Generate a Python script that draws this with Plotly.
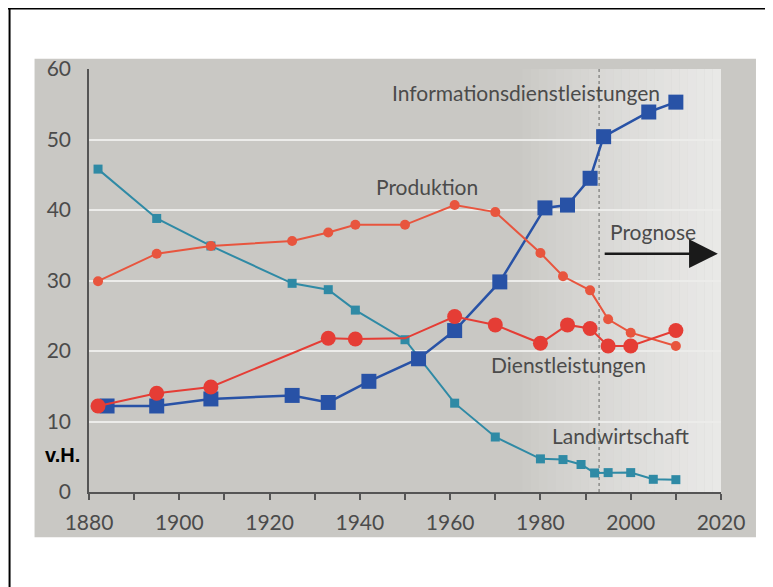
import plotly.graph_objects as go

# Werte (Anteile in v.H.)
anos_landwirtschaft = [1882, 1895, 1907, 1925, 1933, 1939, 1950, 1961, 1970, 1980, 1985, 1989, 1992, 1995, 2000, 2005, 2010]
landwirtschaft = [45.8, 38.8, 34.9, 29.6, 28.7, 25.8, 21.6, 12.6, 7.8, 4.7, 4.6, 3.9, 2.7, 2.75, 2.75, 1.8, 1.75]

anos_produktion = [1882, 1895, 1907, 1925, 1933, 1939, 1950, 1961, 1970, 1980, 1985, 1991, 1995, 2000, 2010]
produktion = [29.9, 33.8, 34.9, 35.6, 36.8, 37.9, 37.9, 40.7, 39.7, 33.9, 30.6, 28.6, 24.5, 22.6, 20.7]

anos_dienst = [1882, 1895, 1907, 1933, 1939, 1950, 1961, 1970, 1980, 1986, 1991, 1995, 2000, 2010]
dienstleistungen = [12.2, 14.0, 14.9, 21.8, 21.7, 21.8, 24.9, 23.7, 21.1, 23.7, 23.2, 20.7, 20.7, 22.9]

anos_info = [1884, 1895, 1907, 1925, 1933, 1942, 1953, 1961, 1971, 1981, 1986, 1991, 1994, 2004, 2010]
info = [12.2, 12.2, 13.2, 13.7, 12.7, 15.7, 18.9, 22.9, 29.8, 40.3, 40.7, 44.5, 50.4, 53.9, 55.3]

ano_prognose = 1993

cor_fundo = '#c9c8c4'
cor_texto = '#4b4b4b'
cor_eixos = '#555555'
cor_teal = '#2f8aa5'
cor_azul = '#2852a6'
cor_vermelho = '#e53d35'
cor_laranja = '#e8553e'
fonte = 'Lato'

# geometria: medidas da página (px) -> coordenadas "paper"
# o navegador desloca a figura 8 px (margem do body)
OFF = 8
W, H = 773, 587
ML = 88.5 - OFF
MT = 69.3 - OFF
PW = 632.5
PH = 422.4
MR = W - ML - PW
MB = H - MT - PH


def px(x):
    return (x - OFF - ML) / PW


def py(y):
    return (MT + PH - (y - OFF)) / PH


fig = go.Figure()

fig.add_trace(go.Scatter(
    x=anos_landwirtschaft, y=landwirtschaft, mode='lines+markers',
    line=dict(color=cor_teal, width=2),
    marker=dict(symbol='square', size=9, color=cor_teal, opacity=1, line=dict(width=0)),
    name='Landwirtschaft'
))
fig.add_trace(go.Scatter(
    x=anos_info, y=info, mode='lines+markers',
    line=dict(color=cor_azul, width=2.5),
    marker=dict(symbol='square', size=15, color=cor_azul, opacity=1, line=dict(width=0)),
    name='Informationsdienstleistungen'
))
fig.add_trace(go.Scatter(
    x=anos_produktion, y=produktion, mode='lines+markers',
    line=dict(color=cor_laranja, width=2),
    marker=dict(symbol='circle', size=10, color=cor_laranja, opacity=1, line=dict(width=0)),
    name='Produktion'
))
# o ponto de 1950 não tem marcador na vorlage
tamanhos_dienst = [0 if a == 1950 else 15 for a in anos_dienst]
fig.add_trace(go.Scatter(
    x=anos_dienst, y=dienstleistungen, mode='lines+markers',
    line=dict(color=cor_vermelho, width=2),
    marker=dict(symbol='circle', size=tamanhos_dienst, sizemode='diameter',
                color=cor_vermelho, opacity=1, line=dict(width=0)),
    name='Dienstleistungen'
))

shapes = [
    # painel cinza
    dict(type='rect', xref='paper', yref='paper', x0=px(34), x1=px(756), y0=py(537), y1=py(59),
         fillcolor=cor_fundo, line=dict(width=0), layer='below'),
]
# área clara da prognose (gradiente em faixas)
n = 24
x_ini, x_fim = 1976, 2020
for i in range(n):
    x0 = x_ini + (x_fim - x_ini) * i / n
    x1 = x_ini + (x_fim - x_ini) * (i + 1) / n
    op = 0.6 * ((i + 1) / n) ** 0.8
    shapes.append(dict(type='rect', xref='x', yref='y', x0=x0, x1=x1, y0=0, y1=60,
                       fillcolor=f'rgba(255,255,255,{op:.3f})', line=dict(width=0), layer='below'))
shapes += [
    # linha pontilhada da prognose
    dict(type='line', xref='x', yref='y', x0=ano_prognose, x1=ano_prognose, y0=0, y1=60,
         line=dict(color='#8c8c8a', width=1.5, dash='dot'), layer='below'),
    # moldura preta
    dict(type='line', xref='paper', yref='paper', x0=px(0), x1=px(790), y0=py(9), y1=py(9),
         line=dict(color='black', width=2)),
    dict(type='line', xref='paper', yref='paper', x0=px(9), x1=px(9), y0=py(8), y1=py(600),
         line=dict(color='black', width=2)),
]

txt = dict(family=fonte, size=21, color=cor_texto)
annotations = [
    dict(x=1976.7, y=56.6, text='Informationsdienstleistungen', showarrow=False, font=txt),
    dict(x=1954.9, y=43.3, text='Produktion', showarrow=False, font=txt),
    dict(x=2004.9, y=36.9, text='Prognose', showarrow=False, font=txt),
    dict(x=1986.2, y=18.1, text='Dienstleistungen', showarrow=False, font=txt),
    dict(x=1997.8, y=8.05, text='Landwirtschaft', showarrow=False, font=txt),
    dict(x=2019.3, y=33.8, ax=1993.9, ay=33.8, axref='x', ayref='y', text='',
         showarrow=True, arrowhead=2, arrowsize=2.3, arrowwidth=2.5, arrowcolor='#1a1a1a'),
    dict(xref='paper', yref='paper', x=px(61.5), y=py(455), xanchor='center', yanchor='middle',
         text='<b>v.H.</b>', showarrow=False,
         font=dict(family='Liberation Sans', size=20, color='black')),
]

fig.update_layout(
    width=W, height=H,
    paper_bgcolor='white',
    plot_bgcolor='rgba(0,0,0,0)',
    margin=dict(l=ML, r=MR, t=MT, b=MB),
    showlegend=False,
    font=dict(family=fonte, color=cor_texto),
    shapes=shapes,
    annotations=annotations,
    xaxis=dict(
        range=[1880, 2020], tick0=1880, dtick=20,
        showgrid=False, zeroline=False,
        showline=True, linecolor=cor_eixos, linewidth=1.5,
        ticks='outside', ticklen=6, tickwidth=1.5, tickcolor=cor_eixos,
        minor=dict(dtick=10, ticks='outside', ticklen=6, tickwidth=1.5, tickcolor=cor_eixos),
        tickfont=dict(family=fonte, size=21, color=cor_texto),
        ticklabelstandoff=5,
    ),
    yaxis=dict(
        range=[0, 60], tick0=0, dtick=10,
        showgrid=True, gridcolor='#ececea', gridwidth=1.5,
        zeroline=False,
        showline=True, linecolor=cor_eixos, linewidth=1.5,
        ticks='', tickfont=dict(family=fonte, size=21, color=cor_texto),
        ticklabelstandoff=12,
    ),
)

fig.write_html('out.html')
